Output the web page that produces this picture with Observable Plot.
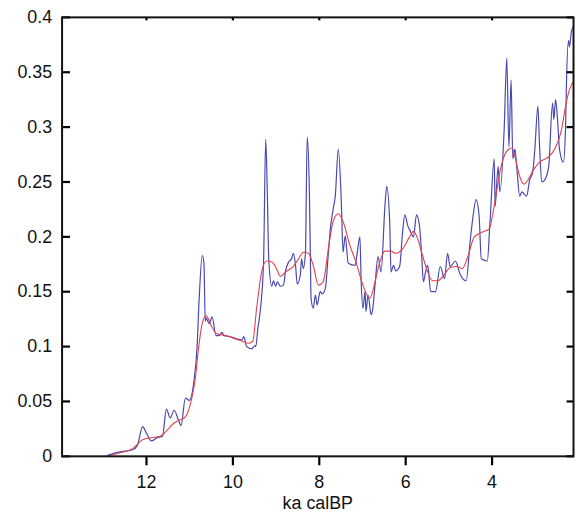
<!DOCTYPE html>
<html>
<head>
<meta charset="utf-8">
<script src="https://cdn.jsdelivr.net/npm/d3@7"></script>
<script src="https://cdn.jsdelivr.net/npm/@observablehq/plot@0.6"></script>
<style>
html, body { margin: 0; padding: 0; overflow: hidden; background: #fff; }
#chart svg { display: block; }
</style>
</head>
<body>
<div id="chart"></div>
<script>
// Raw record (blue): age in ka calBP and value
const rawAge = [12.90,12.62,12.32,12.21,12.09,12.00,11.89,11.75,11.63,11.54,11.45,11.36,11.26,11.20,11.10,11.01,10.90,10.83,10.78,10.71,10.67,10.64,10.62,10.55,10.48,10.39,10.32,10.25,10.21,10.05,9.91,9.79,9.75,9.68,9.56,9.49,9.47,9.42,9.36,9.29,9.24,9.20,9.17,9.10,9.06,9.01,8.97,8.90,8.83,8.78,8.71,8.64,8.60,8.55,8.51,8.44,8.41,8.37,8.32,8.28,8.23,8.21,8.19,8.14,8.09,8.05,7.98,7.93,7.86,7.79,7.75,7.68,7.63,7.56,7.49,7.45,7.40,7.33,7.17,7.13,7.06,7.03,6.99,6.94,6.92,6.87,6.80,6.76,6.71,6.64,6.57,6.48,6.44,6.37,6.34,6.28,6.23,6.14,6.07,6.02,5.95,5.89,5.82,5.75,5.68,5.63,5.59,5.54,5.49,5.42,5.31,5.20,5.10,5.03,4.97,4.85,4.74,4.60,4.51,4.44,4.37,4.30,4.25,4.11,4.05,3.95,3.93,3.86,3.82,3.72,3.66,3.61,3.56,3.52,3.47,3.43,3.36,3.31,3.20,3.13,3.06,3.01,2.94,2.90,2.85,2.78,2.69,2.60,2.57,2.53,2.48,2.44,2.35,2.30,2.28,2.23,2.21,2.16,2.09];
const rawValue = [0.001,0.004,0.006,0.010,0.027,0.021,0.014,0.017,0.018,0.043,0.035,0.042,0.033,0.028,0.053,0.051,0.069,0.099,0.144,0.183,0.176,0.123,0.126,0.121,0.127,0.110,0.110,0.113,0.110,0.109,0.107,0.106,0.109,0.100,0.098,0.101,0.100,0.117,0.135,0.177,0.289,0.234,0.180,0.155,0.160,0.155,0.159,0.155,0.156,0.169,0.177,0.180,0.185,0.174,0.157,0.165,0.180,0.171,0.186,0.291,0.243,0.192,0.144,0.135,0.147,0.138,0.150,0.148,0.153,0.185,0.205,0.225,0.237,0.280,0.232,0.186,0.201,0.176,0.174,0.183,0.200,0.159,0.135,0.150,0.132,0.147,0.129,0.135,0.156,0.182,0.168,0.228,0.246,0.214,0.168,0.174,0.169,0.173,0.205,0.220,0.210,0.205,0.200,0.220,0.210,0.183,0.159,0.168,0.174,0.150,0.150,0.173,0.162,0.185,0.173,0.178,0.166,0.160,0.195,0.219,0.234,0.219,0.180,0.178,0.212,0.271,0.228,0.264,0.241,0.298,0.363,0.282,0.343,0.271,0.280,0.264,0.237,0.241,0.237,0.252,0.259,0.280,0.319,0.282,0.250,0.252,0.264,0.322,0.307,0.325,0.304,0.280,0.268,0.298,0.337,0.379,0.373,0.388,0.393];

// Smoothed record (red)
const smoothAge = [12.90,12.62,12.32,12.09,11.89,11.70,11.54,11.40,11.24,11.10,11.01,10.94,10.87,10.80,10.71,10.62,10.50,10.39,10.16,9.86,9.63,9.54,9.45,9.33,9.22,9.10,8.99,8.90,8.78,8.60,8.48,8.37,8.25,8.14,8.02,7.91,7.79,7.68,7.56,7.45,7.29,7.15,6.99,6.83,6.71,6.60,6.48,6.34,6.23,6.07,5.91,5.82,5.72,5.61,5.49,5.38,5.26,5.10,4.97,4.80,4.69,4.57,4.41,4.18,4.07,3.95,3.82,3.68,3.54,3.47,3.36,3.26,3.20,3.06,2.90,2.69,2.55,2.39,2.30,2.21,2.09];
const smoothValue = [0.000,0.003,0.007,0.015,0.017,0.018,0.023,0.029,0.033,0.036,0.044,0.055,0.071,0.097,0.121,0.128,0.119,0.112,0.110,0.106,0.103,0.105,0.135,0.169,0.178,0.177,0.171,0.164,0.168,0.173,0.180,0.186,0.185,0.174,0.156,0.159,0.189,0.214,0.221,0.214,0.192,0.177,0.156,0.144,0.159,0.177,0.187,0.187,0.185,0.189,0.200,0.205,0.198,0.183,0.168,0.160,0.160,0.166,0.172,0.173,0.171,0.181,0.200,0.205,0.207,0.228,0.259,0.277,0.281,0.273,0.255,0.248,0.250,0.260,0.268,0.273,0.280,0.298,0.319,0.334,0.343];

const xTicks = [12, 10, 8, 6, 4];
const yTicks = [0, 0.05, 0.1, 0.15, 0.2, 0.25, 0.3, 0.35, 0.4];
const xLabel = "ka calBP";

const raw = rawAge.map((a, i) => ({age: a, value: rawValue[i]}));
const smooth = smoothAge.map((a, i) => ({age: a, value: smoothValue[i]}));

const xDomain = [13.954, 2.115];
const yDomain = [0, 0.4];
const pxPerKa = 515 / (xDomain[0] - xDomain[1]);
const pxPerUnit = 442 / (yDomain[1] - yDomain[0]);

// Tick segments built from the tick arrays (two end points each, grouped by id)
const seg = [];
yTicks.forEach((t, i) => {
  seg.push({id: "L" + i, age: xDomain[0], value: t}, {id: "L" + i, age: xDomain[0] - 8 / pxPerKa, value: t});
  seg.push({id: "R" + i, age: xDomain[1], value: t}, {id: "R" + i, age: xDomain[1] + 7 / pxPerKa, value: t});
});
xTicks.forEach((t, i) => {
  seg.push({id: "B" + i, age: t, value: yDomain[0]}, {id: "B" + i, age: t, value: yDomain[0] - 9 / pxPerUnit});
  seg.push({id: "T" + i, age: t, value: yDomain[1]}, {id: "T" + i, age: t, value: yDomain[1] - 3 / pxPerUnit});
});

const chart = Plot.plot({
  width: 580,
  height: 515,
  marginLeft: 62,
  marginRight: 3,
  marginTop: 17,
  marginBottom: 56,
  style: {fontFamily: "Liberation Sans, Arial, sans-serif", fontSize: "18px", color: "#111", background: "#fff"},
  x: {domain: xDomain, range: [62, 577]},
  y: {domain: yDomain},
  marks: [
    Plot.line(raw, {x: "age", y: "value", stroke: "#4848b4", strokeWidth: 1.2, curve: "monotone-x", clip: true}),
    Plot.line(smooth, {x: "age", y: "value", stroke: "#e4404c", strokeWidth: 1.1, curve: "monotone-x", clip: true}),
    // tick labels
    Plot.axisY(yTicks, {anchor: "left", tickSize: 0, tickPadding: 10, tickFormat: d => String(d), label: null, fontSize: 18, fill: "#111"}),
    Plot.axisX(xTicks, {anchor: "bottom", tickSize: 0, tickPadding: 19, tickFormat: d => String(d), label: null, fontSize: 18, fill: "#111"}),
    // tick marks
    Plot.line(seg, {x: "age", y: "value", z: "id", stroke: "#000", strokeWidth: 2.2, strokeLinecap: "butt"}),
    Plot.frame({stroke: "#111", strokeWidth: 2}),
    Plot.text([xLabel], {frameAnchor: "bottom", dy: 47, fontSize: 18, fill: "#111", lineAnchor: "middle"})
  ]
});
document.getElementById("chart").appendChild(chart);
</script>
</body>
</html>
